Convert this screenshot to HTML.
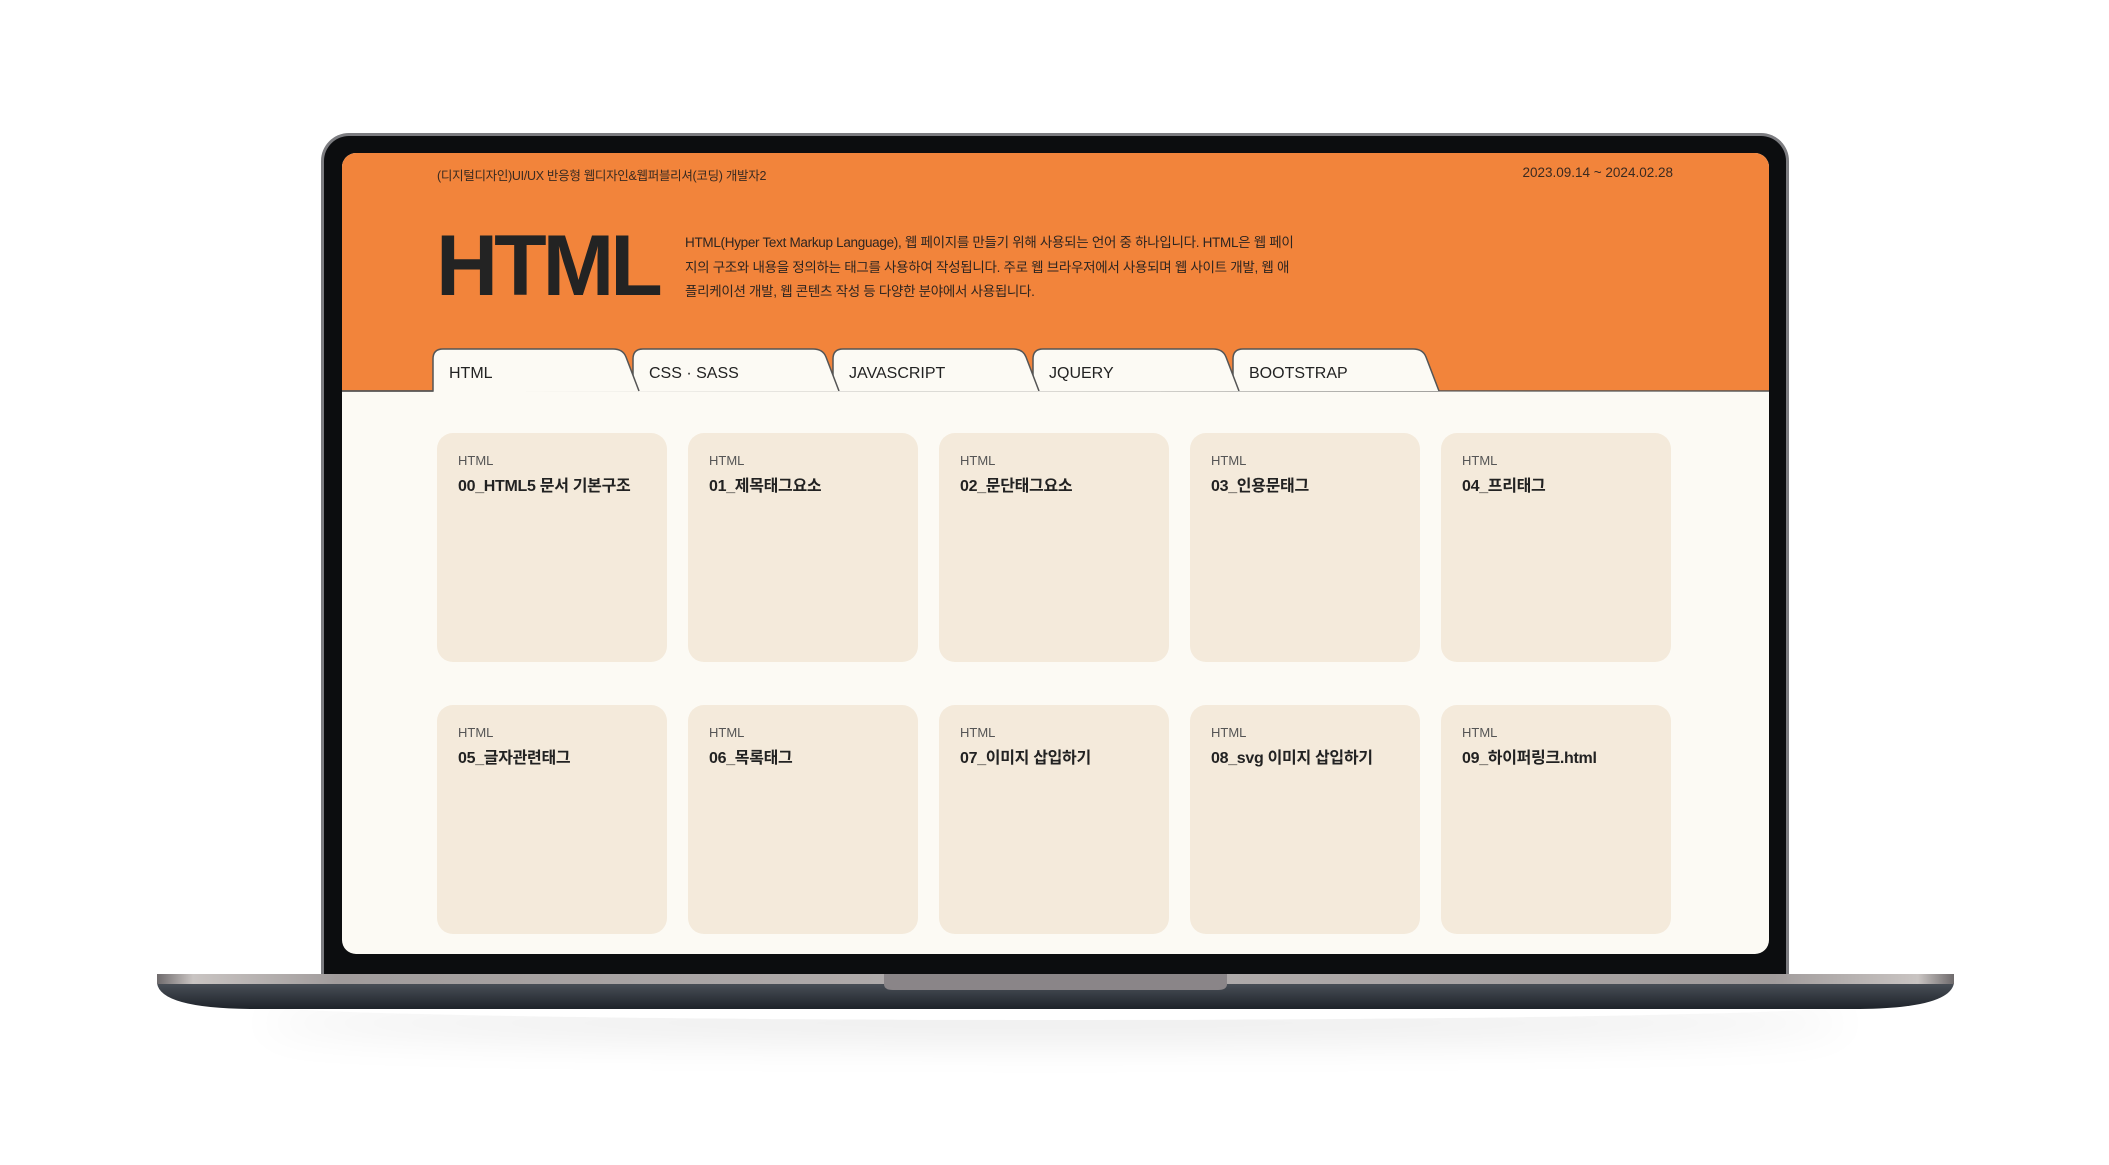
<!DOCTYPE html>
<html><head><meta charset="utf-8"><style>
*{margin:0;padding:0;box-sizing:border-box}
body{width:2109px;height:1165px;background:#fff;position:relative;overflow:hidden;font-family:"Liberation Sans","Noto Sans CJK KR",sans-serif;color:#2a2a2a}
.abs{position:absolute}
.outer{left:321px;top:133px;width:1468px;height:850px;background:#0c0d0f;border-radius:28px 28px 0 0;border:3px solid #7c7c80;border-bottom:none}
.screen{left:342px;top:153px;width:1427px;height:801px;background:#fcfaf4;border-radius:14px;overflow:hidden}
.orange{left:0;top:0;width:1427px;height:238px;background:#f2843b}
.card{width:230px;height:229px;background:#f4eadb;border-radius:16px}
.card .l{position:absolute;left:21px;top:20px;font-size:13px;color:#555}
.card .t{position:absolute;left:21px;top:39px;font-size:16px;font-weight:bold;color:#222;letter-spacing:-0.3px}
.tab{font-size:16px;color:#222;top:212px}
</style></head><body>
<div class="abs" style="left:260px;top:990px;width:1590px;height:30px;border-radius:50%;box-shadow:0 18px 40px rgba(0,0,0,.10)"></div>
<div class="abs outer"></div>
<div class="abs screen">
  <div class="abs orange"></div>
  <div class="abs" style="left:95px;top:12px;font-size:12.5px;color:#3a2a20;letter-spacing:-0.3px">(디지털디자인)UI/UX 반응형 웹디자인&amp;웹퍼블리셔(코딩) 개발자2</div>
  <div class="abs" style="right:96px;top:12px;font-size:13.5px;color:#3a2a20">2023.09.14 ~ 2024.02.28</div>
  <div class="abs" style="left:94px;top:70px;font-size:86px;font-weight:bold;letter-spacing:-4px;color:#232323;line-height:1">HTML</div>
  <div class="abs" style="left:343px;top:78px;width:612px;font-size:13.5px;line-height:24.5px;color:#2e2520;letter-spacing:-0.3px">HTML(Hyper Text Markup Language), 웹 페이지를 만들기 위해 사용되는 언어 중 하나입니다. HTML은 웹 페이지의 구조와 내용을 정의하는 태그를 사용하여 작성됩니다. 주로 웹 브라우저에서 사용되며 웹 사이트 개발, 웹 애플리케이션 개발, 웹 콘텐츠 작성 등 다양한 분야에서 사용됩니다.</div>
  <svg class="abs" style="left:0;top:0" width="1427" height="260">
    <line x1="0" y1="238" x2="1427" y2="238" stroke="#555" stroke-width="1.5"/>
    <g fill="#fcfaf4" stroke="#555" stroke-width="1.5">
      <path d="M891 238 V206 Q891 196 901 196 H1071 Q1081 196 1084 204 L1097 238"/>
      <path d="M691 238 V206 Q691 196 701 196 H871 Q881 196 884 204 L897 238"/>
      <path d="M491 238 V206 Q491 196 501 196 H671 Q681 196 684 204 L697 238"/>
      <path d="M291 238 V206 Q291 196 301 196 H471 Q481 196 484 204 L497 238"/>
      <path d="M91 239 V206 Q91 196 101 196 H271 Q281 196 284 204 L297 238 H1427" stroke="none"/>
      <path d="M0 238 H91 V206 Q91 196 101 196 H271 Q281 196 284 204 L297 238" fill="none"/>
    </g>
  </svg>
  <div class="abs tab" style="left:107px">HTML</div>
  <div class="abs tab" style="left:307px">CSS · SASS</div>
  <div class="abs tab" style="left:507px">JAVASCRIPT</div>
  <div class="abs tab" style="left:707px">JQUERY</div>
  <div class="abs tab" style="left:907px">BOOTSTRAP</div>

  <div class="abs card" style="left:95px;top:280px"><div class="l">HTML</div><div class="t">00_HTML5 문서 기본구조</div></div>
  <div class="abs card" style="left:346px;top:280px"><div class="l">HTML</div><div class="t">01_제목태그요소</div></div>
  <div class="abs card" style="left:597px;top:280px"><div class="l">HTML</div><div class="t">02_문단태그요소</div></div>
  <div class="abs card" style="left:848px;top:280px"><div class="l">HTML</div><div class="t">03_인용문태그</div></div>
  <div class="abs card" style="left:1099px;top:280px"><div class="l">HTML</div><div class="t">04_프리태그</div></div>
  <div class="abs card" style="left:95px;top:552px"><div class="l">HTML</div><div class="t">05_글자관련태그</div></div>
  <div class="abs card" style="left:346px;top:552px"><div class="l">HTML</div><div class="t">06_목록태그</div></div>
  <div class="abs card" style="left:597px;top:552px"><div class="l">HTML</div><div class="t">07_이미지 삽입하기</div></div>
  <div class="abs card" style="left:848px;top:552px"><div class="l">HTML</div><div class="t">08_svg 이미지 삽입하기</div></div>
  <div class="abs card" style="left:1099px;top:552px"><div class="l">HTML</div><div class="t">09_하이퍼링크.html</div></div>
</div>
<svg class="abs" style="left:0;top:0" width="2109" height="1165">
  <defs>
    <linearGradient id="band" x1="0" x2="1">
      <stop offset="0" stop-color="#6e6a6c"/><stop offset=".02" stop-color="#c9c4c2"/><stop offset=".1" stop-color="#a19c9c"/><stop offset=".5" stop-color="#b3aeae"/><stop offset=".9" stop-color="#a19c9c"/><stop offset=".98" stop-color="#c9c4c2"/><stop offset="1" stop-color="#6e6a6c"/>
    </linearGradient>
    <linearGradient id="dark" x1="0" y1="0" x2="0" y2="1">
      <stop offset="0" stop-color="#4a5058"/><stop offset="1" stop-color="#1e232a"/>
    </linearGradient>
  </defs>
  <path d="M157 983 H1954 Q1950 1008 1860 1009 H250 Q160 1008 157 983Z" fill="url(#dark)"/>
  <rect x="157" y="974" width="1797" height="10" fill="url(#band)"/>
  <path d="M884 974 H1227 V984 Q1227 990 1218 990 H893 Q884 990 884 984Z" fill="#8a8588"/>
</svg>
</body></html>
